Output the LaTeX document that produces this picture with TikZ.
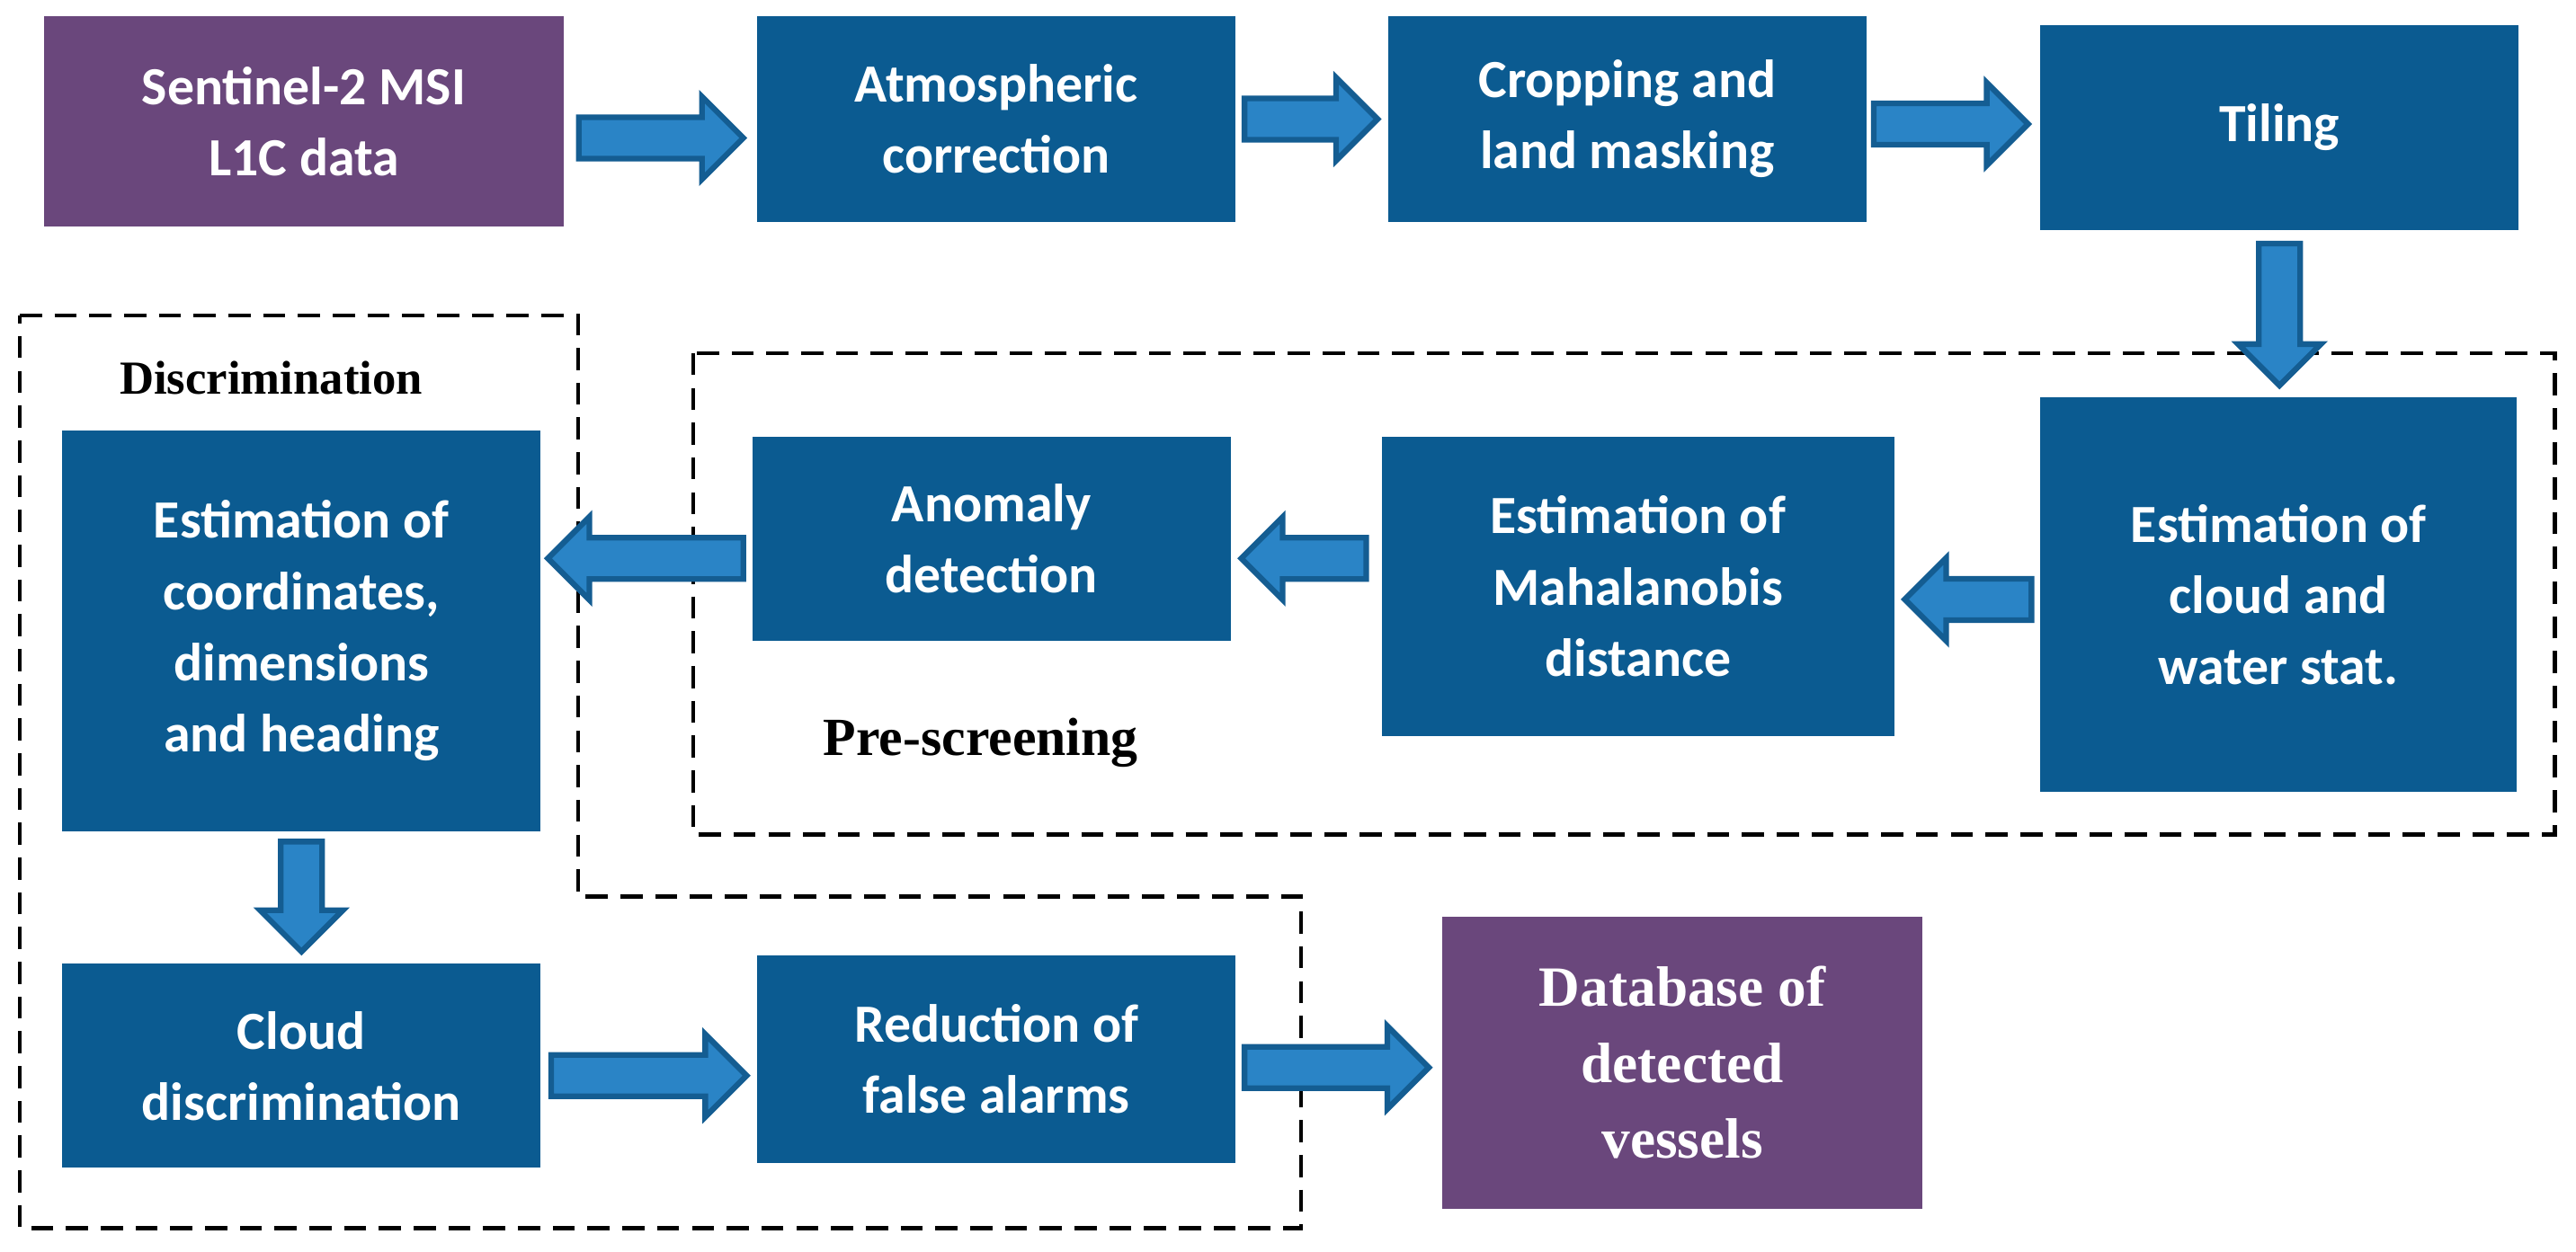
\documentclass[tikz,border=0pt]{standalone}
\usepackage{fontspec}
\setmainfont{Liberation Serif}
\newfontfamily\calfnt{Carlito}
\usetikzlibrary{calc}
\definecolor{boxb}{HTML}{0B5B91}
\definecolor{boxp}{HTML}{6A477C}
\definecolor{arrf}{HTML}{2A84C6}
\definecolor{arro}{HTML}{145D92}
\tikzset{
 box/.style={draw=none,fill=boxb,text=white,font=\calfnt\bfseries\fontsize{17}{22.5}\selectfont,align=center,inner sep=0pt},
 pbox/.style={box,fill=boxp},
 arr/.style={fill=arrf,draw=arro,line width=1.8pt,line join=miter},
 dsh/.style={draw=black,line width=1.3pt,dash pattern=on 7pt off 4pt},
 lab/.style={font=\bfseries\fontsize{17}{20}\selectfont}
}
\def\h{0.23cm}\def\H{0.46cm}\def\L{0.46cm}
\newcommand\rarr[2]{\draw[arr] let \p1=(#1),\p2=(#2) in
 (\x1,\y1+\h)--(\x2-\L,\y1+\h)--(\x2-\L,\y1+\H)--(\x2,\y1)--(\x2-\L,\y1-\H)--(\x2-\L,\y1-\h)--(\x1,\y1-\h)--cycle;}
\newcommand\larr[2]{\draw[arr] let \p1=(#1),\p2=(#2) in
 (\x1,\y1+\h)--(\x2+\L,\y1+\h)--(\x2+\L,\y1+\H)--(\x2,\y1)--(\x2+\L,\y1-\H)--(\x2+\L,\y1-\h)--(\x1,\y1-\h)--cycle;}
\newcommand\darr[2]{\draw[arr] let \p1=(#1),\p2=(#2) in
 (\x1+\h,\y1)--(\x1+\h,\y2+\L)--(\x1+\H,\y2+\L)--(\x1,\y2)--(\x1-\H,\y2+\L)--(\x1-\h,\y2+\L)--(\x1-\h,\y1)--cycle;}
\begin{document}
\begin{tikzpicture}[x=0.01827cm,y=-0.01827cm]
\useasboundingbox[fill=white] (0,0) rectangle (1568,762);
\node[pbox,minimum width=5.77cm,minimum height=2.34cm] (s) at (185,74) {Sentinel-2 MSI\\L1C data};
\node[box,minimum width=5.32cm,minimum height=2.28cm] (atm) at (606.5,72.5) {Atmospheric\\correction};
\node[box,minimum width=5.32cm,minimum height=2.28cm] (crop) at (990.5,72.5) {Cropping and\\land masking};
\node[box,minimum width=5.32cm,minimum height=2.28cm] (til) at (1387.5,77.5) {Tiling};
\node[box,minimum width=5.30cm,minimum height=4.38cm] (ecw) at (1387,362) {Estimation of\\cloud and\\water stat.};
\node[box,minimum width=5.70cm,minimum height=3.33cm] (maha) at (997,357) {Estimation of\\Mahalanobis\\distance};
\node[box,minimum width=5.32cm,minimum height=2.27cm] (anom) at (603.5,328) {Anomaly\\detection};
\node[box,minimum width=5.32cm,minimum height=4.46cm] (eco) at (183.5,384) {Estimation of\\coordinates,\\dimensions\\and heading};
\node[box,minimum width=5.32cm,minimum height=2.27cm] (cdis) at (183.5,649) {Cloud\\discrimination};
\node[box,minimum width=5.32cm,minimum height=2.30cm] (red) at (606.5,645) {Reduction of\\false alarms};
\node[pbox,font=\bfseries\fontsize{18}{24}\selectfont,minimum width=5.33cm,minimum height=3.25cm] (db) at (1024,647) {Database of\\detected\\vessels};
\draw[dsh] (422,215) rectangle (1555,508);
\draw[dsh] (12,192) -- (352,192) -- (352,546) -- (792,546) -- (792,748) -- (12,748) -- cycle;
\node[lab,font=\bfseries\fontsize{15}{18}\selectfont] (ld) at (165,230) {Discrimination};
\node[lab] (lp) at (597,452) {Pre-screening};
\rarr{$(s.east)+(9,10)$}{$(atm.west)+(-8,0)$}
\rarr{$(atm.east)+(5,0)$}{$(crop.west)+(-6,0)$}
\rarr{$(crop.east)+(4,3)$}{$(til.west)+(-7,0)$}
\darr{$(til.south)+(0,8)$}{$(ecw.north)+(0,-7)$}
\larr{$(ecw.west)+(-5,3)$}{$(maha.east)+(6,0)$}
\larr{$(maha.west)+(-9,-17)$}{$(anom.east)+(6,0)$}
\larr{$(anom.west)+(-5,12)$}{$(eco.east)+(4,0)$}
\darr{$(eco.south)+(0,6)$}{$(cdis.north)+(0,-7)$}
\rarr{$(cdis.east)+(6,6)$}{$(red.west)+(-6,0)$}
\rarr{$(red.east)+(5,5)$}{$(db.west)+(-8,0)$}
\end{tikzpicture}
\end{document}
